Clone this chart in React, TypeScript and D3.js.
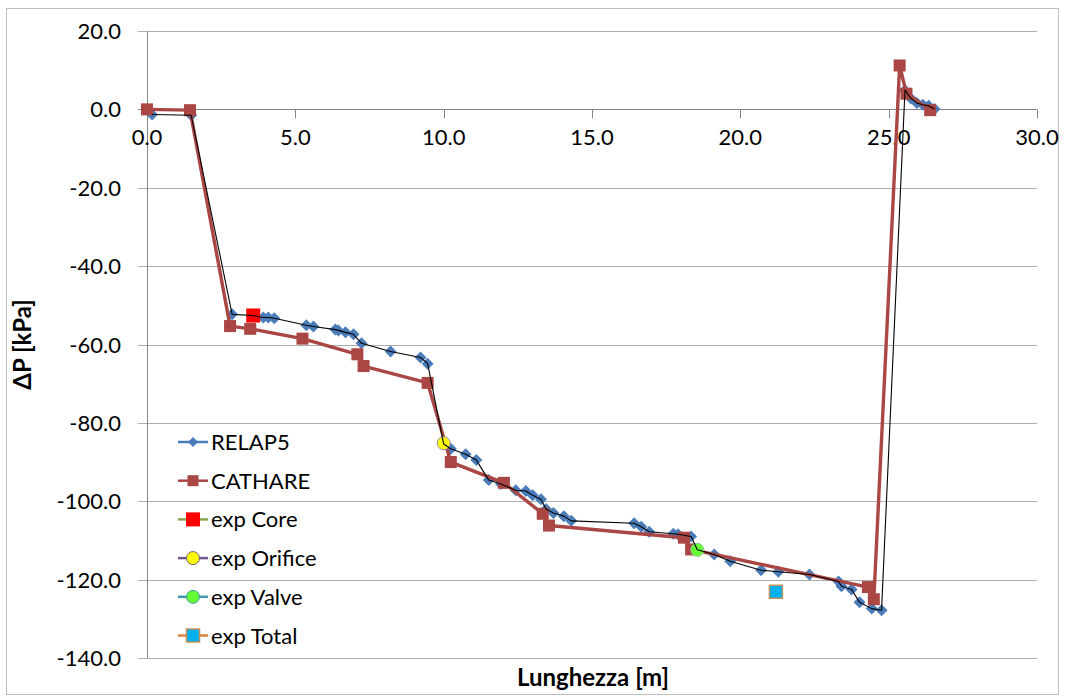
import React from 'react';
import * as d3 from 'd3';

// RELAP5 profile (length [m], dP [kPa])
const relapX = [0.17, 1.49, 2.87, 3.55, 3.92, 4.09, 4.29, 5.37, 5.61, 6.35, 6.45, 6.69, 6.96, 7.23, 8.21, 9.22, 9.46,
  10.0, 10.24, 10.74, 11.1, 11.52, 11.93, 12.43, 12.77, 13.0, 13.28, 13.45, 13.7, 14.05, 14.3, 16.42, 16.66, 16.93,
  17.74, 17.9, 18.34, 18.55, 19.12, 19.66, 20.7, 21.28, 22.33, 23.31, 23.41, 23.75, 24.02, 24.43, 24.76,
  25.55, 25.75, 25.95, 26.15, 26.35, 26.55];
const relapY = [-1.3, -1.5, -52.3, -52.6, -53.1, -53.1, -53.3, -55.1, -55.4, -56.2, -56.4, -56.9, -57.4, -59.7, -61.8, -63.3, -64.9,
  -85.4, -86.6, -88.0, -89.5, -94.6, -95.6, -97.2, -97.4, -98.5, -99.5, -102.0, -103.0, -103.8, -105.0, -105.6, -106.5, -107.8,
  -108.3, -108.4, -109.0, -112.4, -113.6, -115.3, -117.6, -118.0, -118.7, -120.5, -121.7, -122.5, -125.8, -127.4, -127.8,
  4.9, 2.8, 1.6, 1.2, 0.9, 0.1];

// CATHARE profile
const cathareX = [0, 1.45, 2.8, 3.48, 5.24, 7.09, 7.3, 9.46, 10.24, 12.03, 13.34, 13.55, 18.1, 18.34, 24.3, 24.5, 25.37, 25.6, 26.4];
const cathareY = [0, -0.2, -55.3, -56.0, -58.5, -62.5, -65.5, -69.8, -90.0, -95.3, -103.2, -106.2, -109.3, -112.3, -121.9, -125.0, 11.2, 4.0, -0.2];

// experimental points
const expCore = [3.58, -52.6];
const expOrifice = [10.0, -85.2];
const expValve = [18.55, -112.4];
const expTotal = [21.2, -123.1];

const xTicks = [0, 5, 10, 15, 20, 25, 30];
const yTicks = [20, 0, -20, -40, -60, -80, -100, -120, -140];

const legendNames = ['RELAP5', 'CATHARE', 'exp Core', 'exp Orifice', 'exp Valve', 'exp Total'];

const W = 1065;
const H = 698;
const plot = { left: 147, right: 1037, top: 31, bottom: 658 };
const font = 'Lato, "Open Sans", sans-serif';

const C = {
  relap: '#4A7DBA',
  cathare: '#AA4643',
  grid: '#ADADAD',
  axis: '#868686',
};

function Diamond({ x, y, r = 5, fill }: { x: number; y: number; r?: number; fill: string }) {
  return <path d={`M${x},${y - r}L${x + r},${y}L${x},${y + r}L${x - r},${y}Z`} fill={fill} />;
}

function Square({ x, y, s, fill, stroke, sw = 0 }: { x: number; y: number; s: number; fill: string; stroke?: string; sw?: number }) {
  return <rect x={x - s / 2} y={y - s / 2} width={s} height={s} fill={fill} stroke={stroke || 'none'} strokeWidth={sw} />;
}

export default function App() {
  const x = d3.scaleLinear().domain([0, 30]).range([plot.left, plot.right]);
  const y = d3.scaleLinear().domain([-140, 20]).range([plot.bottom, plot.top]);

  const relapPts: [number, number][] = relapX.map((v, i) => [x(v), y(relapY[i])]);
  const cathPts: [number, number][] = cathareX.map((v, i) => [x(v), y(cathareY[i])]);
  const line = d3.line();

  const legendY = (i: number) => 442 + i * 38.7;
  const lx0 = 178;
  const lx1 = 208;
  const lxm = (lx0 + lx1) / 2;

  const legendMarker = (i: number, cy: number) => {
    switch (i) {
      case 0:
        return <Diamond x={lxm} y={cy} r={5} fill={C.relap} />;
      case 1:
        return <Square x={lxm} y={cy} s={11} fill={C.cathare} />;
      case 2:
        return <Square x={lxm} y={cy} s={14} fill="#FF0000" />;
      case 3:
        return <circle cx={lxm} cy={cy} r={6.5} fill="#FFFF00" stroke="#71588F" strokeWidth={1} />;
      case 4:
        return <circle cx={lxm} cy={cy} r={6.5} fill="#66FF33" stroke="#4198AF" strokeWidth={1} />;
      default:
        return <Square x={lxm} y={cy} s={13} fill="#00B0F0" stroke="#C0915A" sw={1.5} />;
    }
  };
  const legendLine = ['#4A7DBA', C.cathare, '#89A54E', '#71588F', '#4198AF', '#DB843D'];

  const y0 = y(0);

  return (
    <svg width={W} height={H} style={{ position: 'absolute', left: 0, top: 0, background: '#fff' }} fontFamily={font}>
      <rect x={6.5} y={8.5} width={1052} height={686} fill="#fff" stroke="#BDBDBD" strokeWidth={1} />

      {/* gridlines */}
      {yTicks.map((t) => (
        <line key={'g' + t} x1={plot.left - 9} x2={plot.right} y1={Math.round(y(t)) + 0.5} y2={Math.round(y(t)) + 0.5}
          stroke={t === 0 ? C.axis : C.grid} strokeWidth={1} />
      ))}
      {/* y axis */}
      <line x1={plot.left + 0.5} x2={plot.left + 0.5} y1={plot.top} y2={plot.bottom} stroke={C.axis} />
      {/* x axis ticks on zero line */}
      {xTicks.map((t) => (
        <line key={'xt' + t} x1={Math.round(x(t)) + 0.5} x2={Math.round(x(t)) + 0.5} y1={y0} y2={y0 + 9} stroke={C.axis} />
      ))}

      {/* tick labels */}
      {yTicks.map((t) => (
        <text key={'yl' + t} x={121} y={y(t) + 8} textAnchor="end" fontSize={22} fill="#000">{t.toFixed(1)}</text>
      ))}
      {xTicks.map((t) => (
        <text key={'xl' + t} x={x(t)} y={y0 + 36} textAnchor="middle" fontSize={22} fill="#000">{t.toFixed(1)}</text>
      ))}

      {/* axis titles */}
      <text x={593} y={686} textAnchor="middle" fontSize={24} fontWeight="bold">Lunghezza [m]</text>
      <text transform={`translate(31,${(plot.top + plot.bottom) / 2}) rotate(-90)`} textAnchor="middle" fontSize={24} fontWeight="bold">ΔP [kPa]</text>

      {/* RELAP5 markers */}
      {relapPts.map((p, i) => <Diamond key={'r' + i} x={p[0]} y={p[1]} r={6} fill={C.relap} />)}

      {/* CATHARE */}
      <path d={line(cathPts) || ''} fill="none" stroke={C.cathare} strokeWidth={3.4} strokeLinejoin="round" />
      {cathPts.map((p, i) => <Square key={'c' + i} x={p[0]} y={p[1]} s={12} fill={C.cathare} />)}

      {/* experiments */}
      <Square x={x(expCore[0])} y={y(expCore[1])} s={14} fill="#FF0000" />
      <circle cx={x(expOrifice[0])} cy={y(expOrifice[1])} r={6.5} fill="#FFFF00" stroke="#9A86B0" strokeWidth={1} />
      <circle cx={x(expValve[0])} cy={y(expValve[1])} r={6.5} fill="#66FF33" stroke="#8FD08F" strokeWidth={1} />
      <Square x={x(expTotal[0])} y={y(expTotal[1])} s={13} fill="#00B0F0" stroke="#C0915A" sw={1.5} />

      {/* RELAP5 connecting line on top */}
      <path d={line(relapPts) || ''} fill="none" stroke="#000" strokeWidth={1.1} strokeLinejoin="round" />

      {/* legend */}
      {legendNames.map((n, i) => {
        const cy = legendY(i);
        return (
          <g key={n}>
            <line x1={lx0} x2={lx1} y1={cy} y2={cy} stroke={legendLine[i]} strokeWidth={2.5} />
            {legendMarker(i, cy)}
            <text x={211} y={cy + 8} fontSize={22} fill="#000">{n}</text>
          </g>
        );
      })}
    </svg>
  );
}
